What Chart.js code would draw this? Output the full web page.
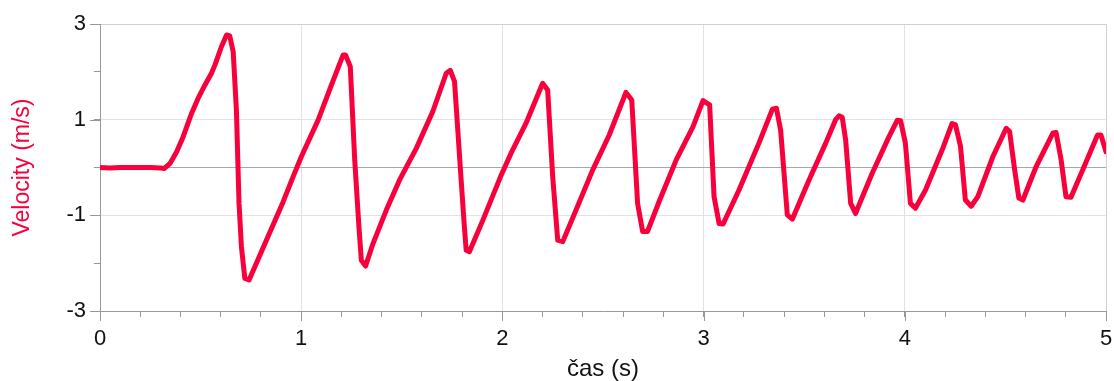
<!DOCTYPE html>
<html>
<head>
<meta charset="utf-8">
<script src="https://cdn.jsdelivr.net/npm/chart.js@4/dist/chart.umd.min.js"></script>
<style>
  html, body { margin: 0; padding: 0; background: #fff; }
  #wrap { width: 1114px; height: 381px; position: relative; }
</style>
</head>
<body>
<div id="wrap"><canvas id="myChart"></canvas></div>
<script>
var timeValues = [0, 0.05, 0.1, 0.15, 0.2, 0.25, 0.3, 0.32,
  0.347, 0.38, 0.413, 0.455, 0.488, 0.521, 0.554, 0.571, 0.604, 0.629, 0.645, 0.662, 0.678, 0.691, 0.703, 0.72, 0.741,
  0.827, 0.91, 0.96, 1.001, 1.084, 1.15, 1.208, 1.221, 1.244, 1.266, 1.287, 1.299, 1.32,
  1.357, 1.423, 1.489, 1.572, 1.654, 1.721, 1.741, 1.762, 1.795, 1.811, 1.82, 1.836,
  1.903, 1.99, 2.043, 2.117, 2.2, 2.225, 2.25, 2.275, 2.3,
  2.366, 2.449, 2.531, 2.614, 2.643, 2.672, 2.697, 2.721,
  2.78, 2.864, 2.947, 2.997, 3.03, 3.052, 3.077, 3.097,
  3.176, 3.275, 3.342, 3.362, 3.383, 3.416, 3.441,
  3.524, 3.607, 3.656, 3.673, 3.689, 3.706, 3.731, 3.755,
  3.838, 3.921, 3.963, 3.979, 4.003, 4.028, 4.053,
  4.103, 4.186, 4.235, 4.252, 4.277, 4.301, 4.33,
  4.363, 4.438, 4.504, 4.521, 4.546, 4.567, 4.587,
  4.653, 4.736, 4.752, 4.777, 4.801, 4.826,
  4.884, 4.958, 4.975, 5.0];
var velocityValues = [0, -0.01, 0, 0, 0, 0, -0.01, -0.02,
  0.08, 0.32, 0.64, 1.13, 1.45, 1.72, 1.97, 2.14, 2.53, 2.77, 2.75, 2.42, 1.2, -0.75, -1.66, -2.32, -2.35,
  -1.52, -0.72, -0.19, 0.23, 0.99, 1.72, 2.35, 2.35, 2.11, 0.16, -1.24, -1.94, -2.06,
  -1.59, -0.89, -0.26, 0.40, 1.17, 1.97, 2.03, 1.8, -0.26, -1.24, -1.73, -1.76,
  -1.1, -0.2, 0.30, 0.92, 1.76, 1.62, -0.19, -1.52, -1.55,
  -0.89, -0.05, 0.68, 1.57, 1.41, -0.75, -1.34, -1.34,
  -0.7, 0.16, 0.85, 1.40, 1.31, -0.61, -1.17, -1.18,
  -0.47, 0.51, 1.22, 1.24, 0.78, -0.99, -1.08,
  -0.26, 0.51, 1.0, 1.08, 1.05, 0.58, -0.75, -0.96,
  -0.12, 0.64, 0.99, 0.98, 0.51, -0.75, -0.85,
  -0.47, 0.37, 0.92, 0.89, 0.44, -0.68, -0.81,
  -0.61, 0.23, 0.82, 0.75, -0.05, -0.64, -0.68,
  0.02, 0.72, 0.73, 0.16, -0.61, -0.62,
  -0.05, 0.68, 0.68, 0.33];
var xTickLabels = ["0", "1", "2", "3", "4", "5"];
var yTickLabels = ["-3", "-1", "1", "3"];

var lineColor = "#f7003c";
var fontFam = "'Liberation Sans', Arial, sans-serif";

var points = timeValues.map(function (t, i) { return {x: t, y: velocityValues[i]}; });

function isWhole(v) { return Math.abs(v - Math.round(v)) < 1e-6; }

// longer tick marks at the labelled values
var majorTicks = {
  id: "majorTicks",
  afterDraw: function (chart) {
    var ctx = chart.ctx, xs = chart.scales.x, ys = chart.scales.y;
    ctx.save();
    ctx.strokeStyle = "#999";
    ctx.lineWidth = 1;
    ctx.beginPath();
    xTickLabels.forEach(function (l) {
      var px = Math.round(xs.getPixelForValue(Number(l))) + 0.5;
      ctx.moveTo(px, xs.top);
      ctx.lineTo(px, xs.top + 10);
    });
    yTickLabels.forEach(function (l) {
      var py = Math.round(ys.getPixelForValue(Number(l))) + 0.5;
      ctx.moveTo(ys.right - 10, py);
      ctx.lineTo(ys.right, py);
    });
    ctx.stroke();
    ctx.restore();
  }
};

new Chart("myChart", {
  type: "line",
  data: {
    datasets: [{
      data: points,
      borderColor: lineColor,
      borderWidth: 5,
      pointRadius: 0,
      tension: 0,
      borderJoinStyle: "round",
      borderCapStyle: "round",
      fill: false
    }]
  },
  plugins: [majorTicks],
  options: {
    responsive: true,
    maintainAspectRatio: false,
    animation: false,
    layout: {padding: {left: 0, right: 8, top: 24, bottom: 0}},
    plugins: {legend: {display: false}, tooltip: {enabled: false}},
    scales: {
      x: {
        type: "linear",
        min: 0,
        max: 5,
        afterFit: function (s) {
          s.height = 70;
          s.paddingLeft = 0;
          s.paddingRight = 0;
        },
        border: {color: "#999", width: 1},
        grid: {
          color: function (c) {
            var v = c.tick.value;
            if (!isWhole(v) || v === 0) return "rgba(0,0,0,0)";
            return v === 5 ? "#cfcfcf" : "#e2e2e2";
          },
          tickColor: "#999",
          tickLength: 6
        },
        ticks: {
          stepSize: 0.2,
          autoSkip: false,
          maxRotation: 0,
          padding: 9,
          color: "#111",
          font: {family: fontFam, size: 22},
          callback: function (v) {
            if (!isWhole(v)) return "";
            var s = String(Math.round(v));
            return xTickLabels.indexOf(s) >= 0 ? s : "";
          }
        },
        title: {
          display: true,
          text: "čas (s)",
          color: "#111",
          font: {family: fontFam, size: 24, lineHeight: 1},
          padding: {top: 0, bottom: 0}
        }
      },
      y: {
        min: -3,
        max: 3,
        afterFit: function (s) { s.width = 100; },
        border: {color: "#999", width: 1},
        grid: {
          color: function (c) {
            var v = Math.round(c.tick.value);
            if (v === 0) return "#a8a8a8";
            if (v === 3) return "#cfcfcf";
            if (v === 1 || v === -1) return "#e2e2e2";
            return "rgba(0,0,0,0)";
          },
          tickColor: "#999",
          tickLength: 6
        },
        ticks: {
          stepSize: 1,
          autoSkip: false,
          padding: 8,
          color: "#111",
          font: {family: fontFam, size: 22},
          callback: function (v) {
            var s = String(Math.round(v));
            return yTickLabels.indexOf(s) >= 0 ? s : "";
          }
        },
        title: {
          display: true,
          text: "Velocity (m/s)",
          color: lineColor,
          font: {family: fontFam, size: 23},
          padding: {top: 9, bottom: 0}
        }
      }
    }
  }
});
</script>
</body>
</html>
